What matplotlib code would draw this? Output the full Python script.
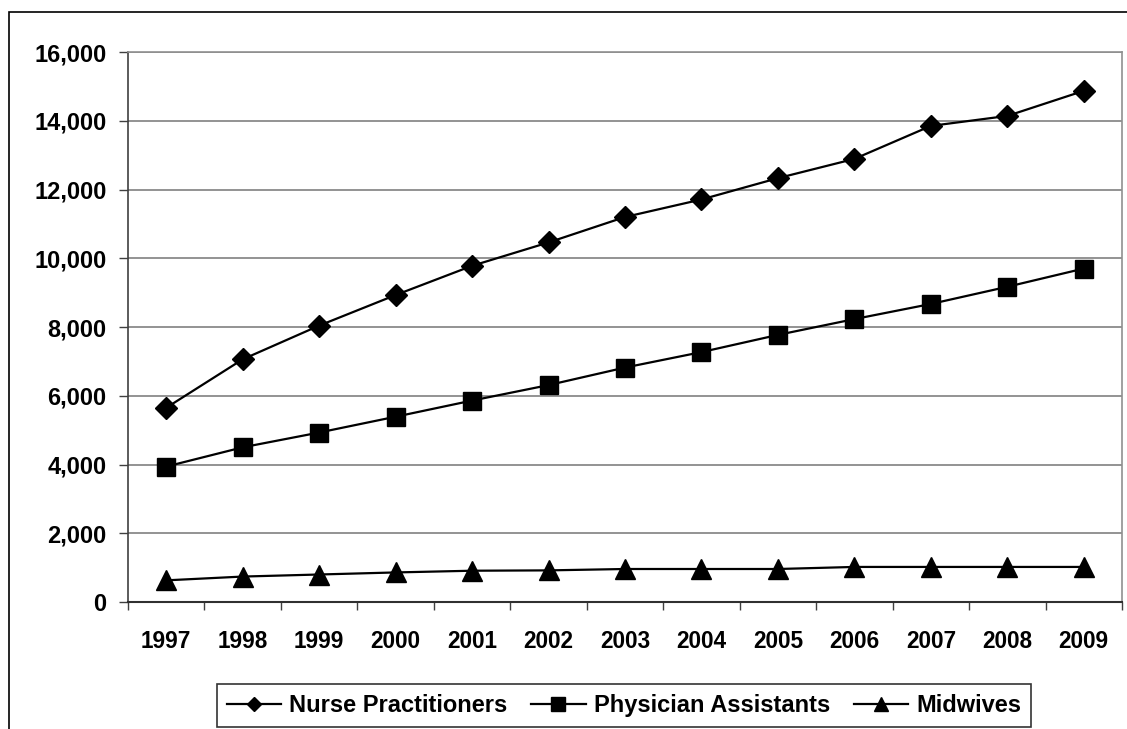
import matplotlib
matplotlib.use("Agg")
import matplotlib.pyplot as plt
from matplotlib.patches import Rectangle
from matplotlib.ticker import FuncFormatter, FixedLocator

years = ["1997", "1998", "1999", "2000", "2001", "2002", "2003",
         "2004", "2005", "2006", "2007", "2008", "2009"]
nurse_practitioners = [5650, 7060, 8040, 8930, 9780, 10460, 11200,
                       11710, 12330, 12890, 13850, 14140, 14870]
physician_assistants = [3940, 4500, 4930, 5390, 5860, 6310, 6820,
                        7270, 7770, 8230, 8670, 9170, 9700]
midwives = [630, 740, 800, 860, 910, 920, 960,
            960, 960, 1020, 1020, 1020, 1020]

plt.rcParams["font.family"] = ["Liberation Sans", "DejaVu Sans"]
plt.rcParams["font.weight"] = "bold"

W, H = 1127, 729
fig = plt.figure(figsize=(W / 100, H / 100), dpi=100)
ax = fig.add_axes([128 / W, 1 - 602 / H, (1122 - 128) / W, (602 - 52) / H])

x = list(range(len(years)))
ax.plot(x, nurse_practitioners, color="black", lw=1.6, marker="D",
        ms=10.8, label="Nurse Practitioners", clip_on=False, zorder=3)
ax.plot(x, physician_assistants, color="black", lw=1.6, marker="s",
        ms=13.5, label="Physician Assistants", clip_on=False, zorder=3)
ax.plot(x, midwives, color="black", lw=1.6, marker="^",
        ms=14.5, label="Midwives", clip_on=False, zorder=3)

ax.set_xlim(-0.5, len(years) - 0.5)
ax.set_ylim(0, 16000)
ax.set_yticks(range(0, 16001, 2000))
ax.yaxis.set_major_formatter(FuncFormatter(lambda v, p: f"{int(v):,}"))
ax.grid(axis="y", color="#808080", lw=1.2)
ax.set_axisbelow(True)

ax.set_xticks(x)
ax.set_xticklabels(years)
ax.xaxis.set_minor_locator(FixedLocator([i - 0.5 for i in range(len(years) + 1)]))
ax.tick_params(axis="x", which="major", length=0, pad=20, labelsize=16.3)
ax.tick_params(axis="x", which="minor", length=6, width=1, color="#404040", direction="out")
ax.tick_params(axis="y", length=6.5, width=1, color="#404040", pad=9, labelsize=17)

for s in ["top", "right"]:
    ax.spines[s].set_color("#909090")
    ax.spines[s].set_linewidth(1.2)
ax.spines["left"].set_color("#404040")
ax.spines["left"].set_linewidth(1.2)
ax.spines["bottom"].set_color("#303030")
ax.spines["bottom"].set_linewidth(1.5)

# outer chart frame (clipped by the image edge on right and bottom)
fig.add_artist(Rectangle((9 / W, -0.5), 2, (1 - 11.5 / H) + 0.5,
                         transform=fig.transFigure, fill=False,
                         ec="black", lw=1.2))

leg = fig.legend(loc="center", bbox_to_anchor=(624 / W, 1 - 705.5 / H),
                 ncol=3, frameon=True, fancybox=False, shadow=False,
                 fontsize=17, handlelength=2.3, handletextpad=0.35,
                 columnspacing=1.0, borderpad=0.42, markerscale=0.7,
                 borderaxespad=0)
leg.get_frame().set_edgecolor("black")
leg.get_frame().set_linewidth(1.2)

fig.savefig("out.png", dpi=100)
